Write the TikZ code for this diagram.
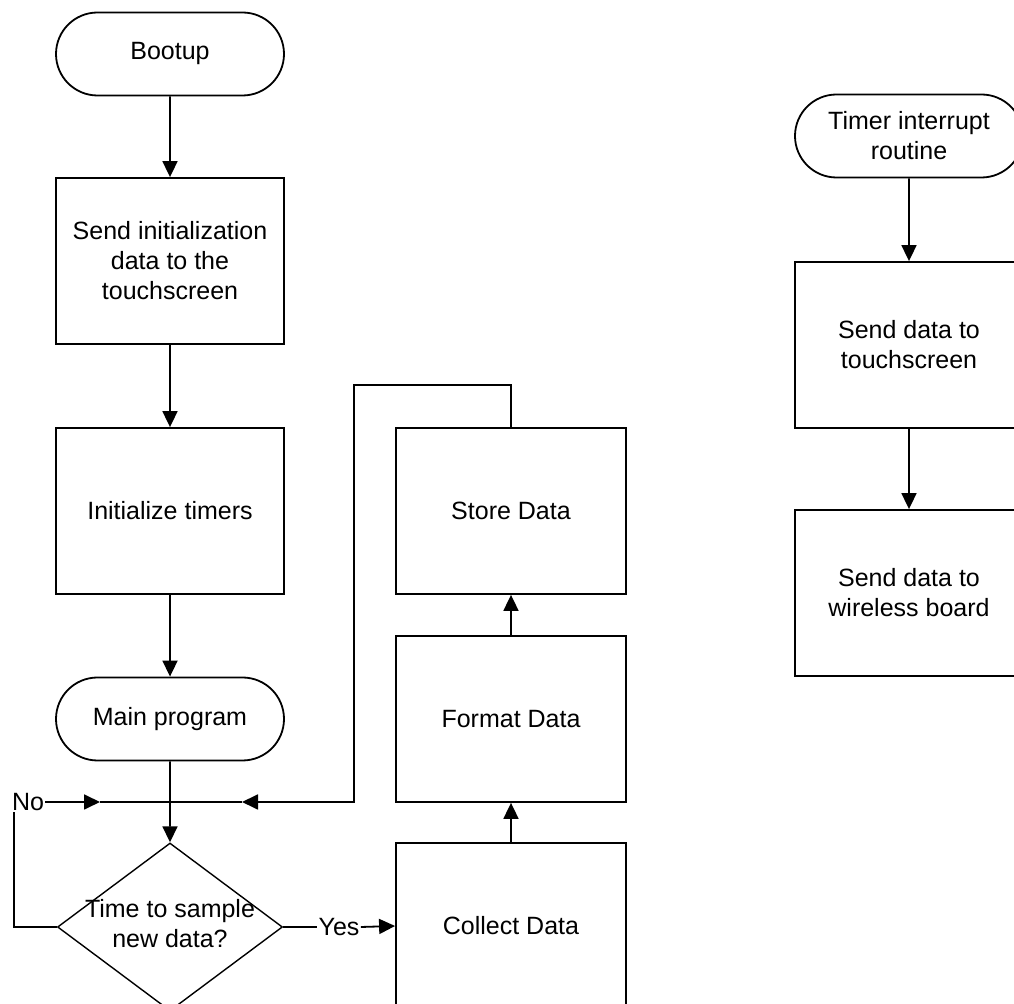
\documentclass[tikz,border=0pt]{standalone}
\usepackage{fontspec}
\setmainfont{Liberation Sans}
\usetikzlibrary{shapes.misc,shapes.geometric,arrows.meta}

\begin{document}
\begin{tikzpicture}[x=0.5pt, y=-0.5pt,
	every node/.style={font=\fontsize{12.5}{15}\selectfont, align=center},
	terminal/.style={draw, line width=0.9pt, rounded rectangle, minimum width=114pt, minimum height=41.5pt, inner sep=0pt},
	process/.style={draw, line width=0.9pt, rectangle, minimum width=114pt, minimum height=83pt, inner sep=0pt},
	decision/.style={draw, line width=0.7pt, diamond, minimum width=112.5pt, minimum height=84pt, inner sep=0pt},
	tag/.style={inner sep=0.5pt},
	flow/.style={line width=0.9pt, -{Triangle[width=7.5pt, length=8pt]}},
	plain/.style={line width=0.9pt}]
	\useasboundingbox (0,0) rectangle (1014,1004);
	\clip (0,0) rectangle (1014,1004);

	% main program
	\node[terminal] (bootup) at (170,54) {Bootup};
	\node[process] (sendinit) at (170,261) {Send initialization\\data to the\\touchscreen};
	\node[process] (timers) at (170,511) {Initialize timers};
	\node[terminal] (mainprog) at (170,719) {Main program};
	\node[decision] (sample) at (170,927) {};
	\node (sampletext) at (170,924) {Time to sample\\new data?};

	\node[process, minimum width=115pt] (collect) at (511,926) {Collect Data};
	\node[process, minimum width=115pt] (format) at (511,719) {Format Data};
	\node[process, minimum width=115pt] (store) at (511,511) {Store Data};

	\node[tag] (no) at (28,802) {No};
	\node[tag] (yes) at (339,927) {Yes};

	% timer interrupt
	\node[terminal] (timerint) at (909,136) {Timer interrupt\\routine};
	\node[process] (sendtouch) at (909,345) {Send data to\\touchscreen};
	\node[process] (sendwireless) at (909,593) {Send data to\\wireless board};

	\coordinate (nocorner) at (14,927);
	\coordinate (mergeleft) at (100,802);
	\coordinate (mergeright) at (242,802);
	\coordinate (looptop) at (354,385);

	\draw[flow] (bootup) -- (sendinit);
	\draw[flow] (sendinit) -- (timers);
	\draw[flow] (timers) -- (mainprog);
	\draw[flow] (mainprog) -- (sample);

	\draw[plain] (sample.east) -- (yes.west);
	\draw[flow] (yes.east) -- (collect.west);
	\draw[flow] (collect) -- (format);
	\draw[flow] (format) -- (store);
	\draw[flow] (store.north) |- (looptop) |- (mergeright);

	\draw[plain] (sample.west) -- (nocorner) -- (nocorner |- no.south);
	\draw[flow] (no.east) -- (mergeleft);
	\draw[plain] (mergeleft) -- (mergeright);

	\draw[flow] (timerint) -- (sendtouch);
	\draw[flow] (sendtouch) -- (sendwireless);

\end{tikzpicture}
\end{document}
